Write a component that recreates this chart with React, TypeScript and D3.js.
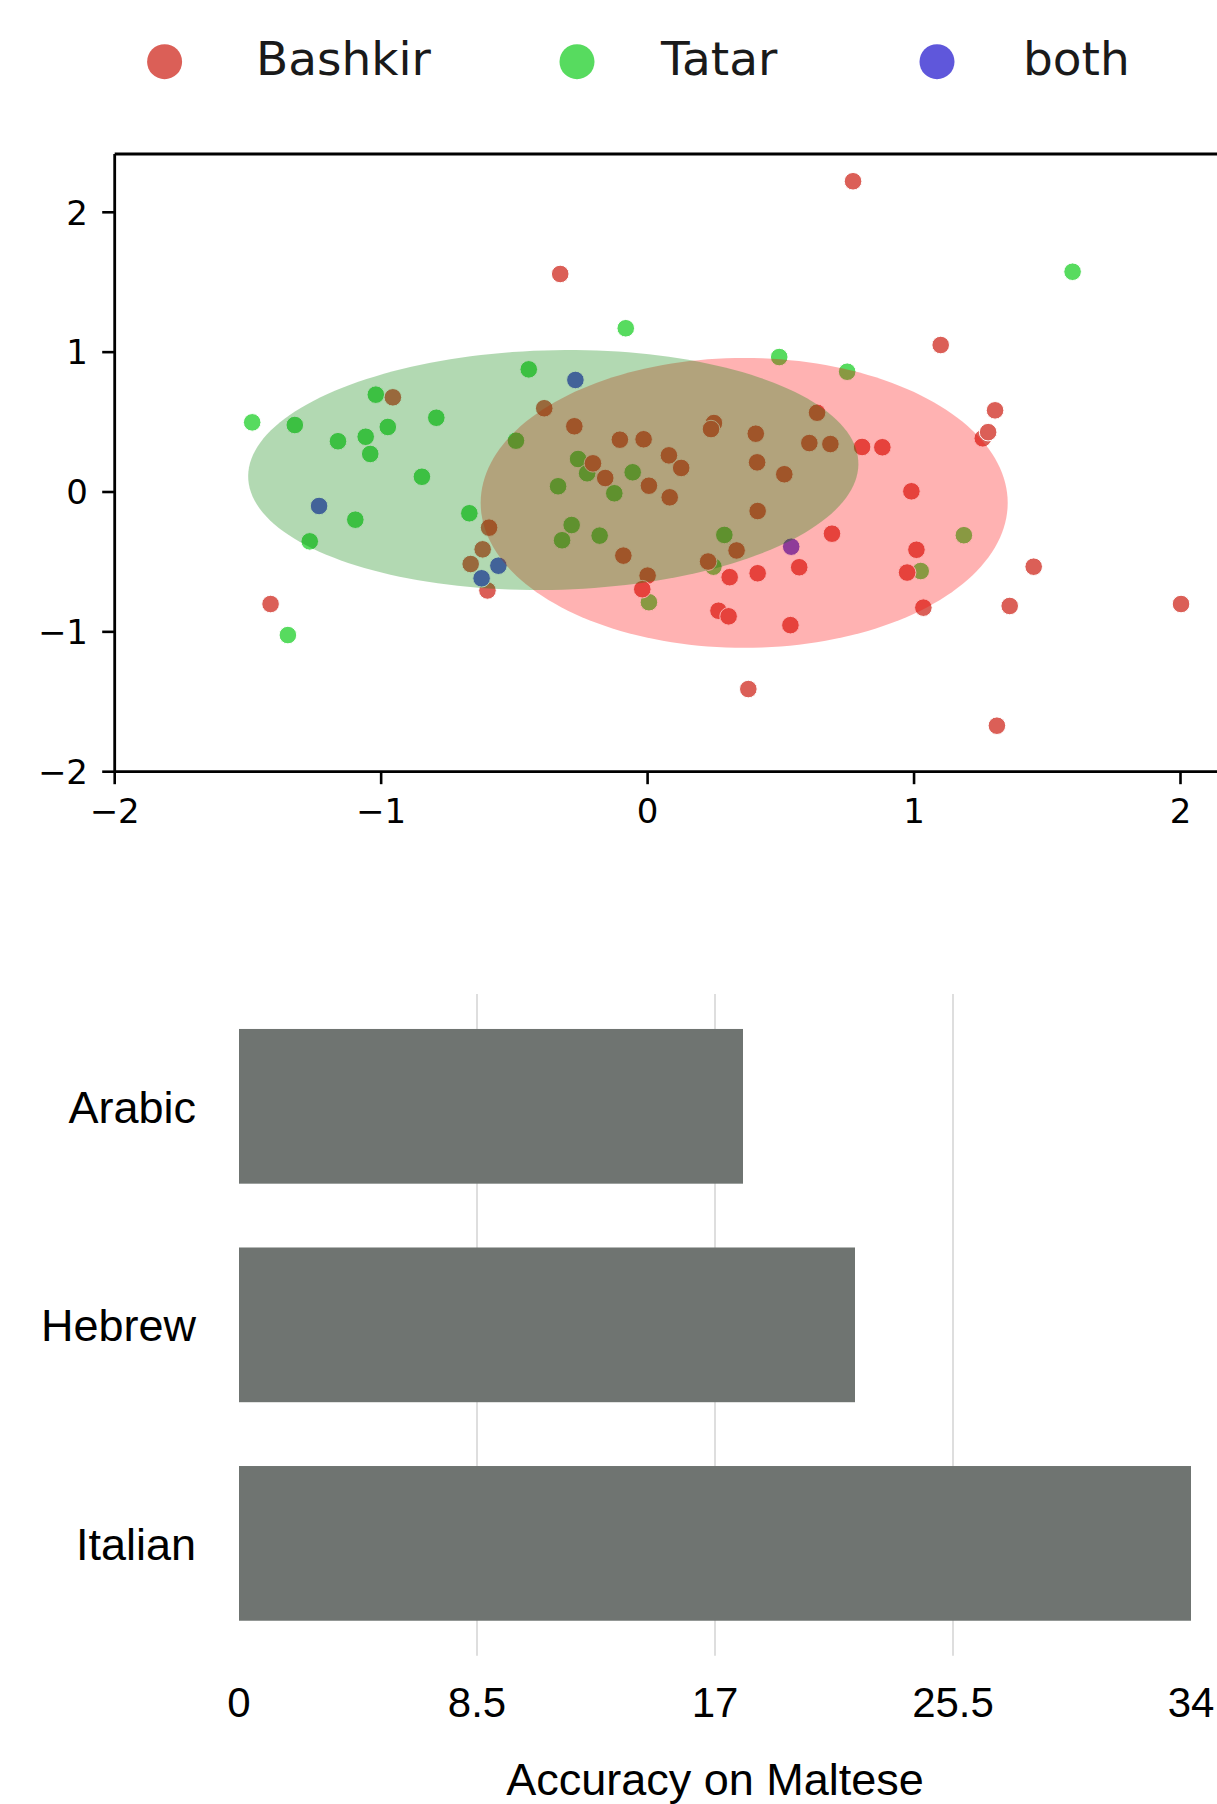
import React from 'react';
import * as d3 from 'd3';

// scatter: language groups
const groups = ['Bashkir', 'Tatar', 'both'];
const groupColors = ['#db5f57', '#57db5f', '#5f57db'];

const bashkirPts: [number, number][] = [
  [-0.956, 0.677], [-1.415, -0.801], [-0.595, -0.255], [-0.619, -0.41], [-0.664, -0.515],
  [-0.601, -0.704], [-0.388, 0.599], [-0.275, 0.47], [-0.104, 0.374], [-0.015, 0.377],
  [0.08, 0.262], [0.126, 0.172], [0.249, 0.493], [0.238, 0.45], [-0.205, 0.205],
  [-0.159, 0.1], [0.005, 0.045], [0.083, -0.038], [-0.091, -0.455], [0.0, -0.598],
  [-0.02, -0.695], [0.334, -0.418], [0.227, -0.497], [0.308, -0.609], [0.266, -0.849],
  [0.304, -0.889], [1.1, 1.051], [1.304, 0.584], [1.258, 0.384], [1.278, 0.428],
  [0.636, 0.567], [0.406, 0.417], [0.607, 0.35], [0.686, 0.343], [0.805, 0.322],
  [0.881, 0.32], [0.411, 0.212], [0.513, 0.127], [0.413, -0.136], [0.99, 0.005],
  [0.692, -0.298], [0.413, -0.581], [0.569, -0.538], [1.009, -0.413], [0.974, -0.576],
  [1.035, -0.827], [1.359, -0.815], [1.449, -0.534], [0.536, -0.952], [0.378, -1.409],
  [1.311, -1.671], [2.002, -0.801], [0.771, 2.222], [-0.328, 1.559],
];

const tatarPts: [number, number][] = [
  [-1.484, 0.498], [-1.324, 0.479], [-1.02, 0.696], [-0.793, 0.531], [-1.162, 0.363],
  [-1.058, 0.395], [-0.975, 0.465], [-1.041, 0.272], [-0.847, 0.109], [-1.097, -0.198],
  [-1.268, -0.353], [-0.669, -0.152], [-1.35, -1.023], [-0.082, 1.171], [-0.446, 0.877],
  [-0.494, 0.367], [-0.261, 0.236], [-0.227, 0.134], [-0.125, -0.009], [-0.056, 0.141],
  [-0.336, 0.041], [-0.285, -0.236], [-0.321, -0.345], [-0.18, -0.312], [0.005, -0.788],
  [0.288, -0.307], [0.247, -0.534], [0.494, 0.965], [0.749, 0.86], [1.187, -0.309],
  [1.025, -0.565], [1.595, 1.575],
];

const bothPts: [number, number][] = [
  [-1.233, -0.1], [-0.623, -0.617], [-0.56, -0.527], [-0.271, 0.801], [0.539, -0.391],
];

// ellipses: [cx, cy, width, height, angle in degrees]
const ellipseBashkir = [0.3625, -0.078, 1.978, 2.073, 0];
const ellipseTatar = [-0.354, 0.157, 2.294, 1.711, 5];

const xTicks = [-2, -1, 0, 1, 2];
const yTicks = [-2, -1, 0, 1, 2];

// bar chart
const languages = ['Arabic', 'Hebrew', 'Italian'];
const accuracy = [18, 22, 34];
const accTicks = [0, 8.5, 17, 25.5, 34];

const fmt = (v: number) => (v < 0 ? '\u2212' + Math.abs(v) : String(v));

export default function App() {
  const x = d3.scaleLinear().domain([-2, 2]).range([114.7, 1180.5]);
  const y = d3.scaleLinear().domain([-2, 2]).range([771.7, 212.3]);
  const yTop = y(2.417);
  const xRight = x(2.3);

  const ellipsePath = (e: number[]) => {
    const [cx, cy, w, h, ang] = e;
    const a = (ang * Math.PI) / 180;
    const pts = d3.range(0, 360, 2).map((t) => {
      const r = (t * Math.PI) / 180;
      const ex = (w / 2) * Math.cos(r);
      const ey = (h / 2) * Math.sin(r);
      return [cx + ex * Math.cos(a) - ey * Math.sin(a), cy + ex * Math.sin(a) + ey * Math.cos(a)] as [number, number];
    });
    return d3.line<[number, number]>().x((d) => x(d[0])).y((d) => y(d[1])).curve(d3.curveLinearClosed)(pts) || '';
  };

  const layers: [number, number][][] = [tatarPts, bashkirPts, bothPts];
  const layerColor = [groupColors[1], groupColors[0], groupColors[2]];

  const bx = d3.scaleLinear().domain([0, 34]).range([239, 1191]);
  const by = d3.scaleBand().domain(languages).range([994, 1655.7]).paddingInner(0.292).paddingOuter(0.16);

  const legendX = [164.6, 577, 937];
  const legendTextX = [256, 661, 1023];

  const dv = 'DejaVu Sans, sans-serif';
  const helv = 'Liberation Sans, Arial, Helvetica, sans-serif';

  return (
    <svg width={1217} height={1804} style={{ position: 'absolute', left: 0, top: 0, background: '#fff' }}>
      {/* legend */}
      {groups.map((g, i) => (
        <g key={g}>
          <circle cx={legendX[i]} cy={61.7} r={17.5} fill={groupColors[i]} />
          <text x={legendTextX[i]} y={75} fontFamily={dv} fontSize={47} fill="#1a1a1a">{g}</text>
        </g>
      ))}

      {/* scatter points */}
      {layers.map((pts, li) => (
        <g key={li}>
          {pts.map((p, i) => (
            <circle key={i} cx={x(p[0])} cy={y(p[1])} r={8.8} fill={layerColor[li]} stroke="#fff" strokeWidth={1} />
          ))}
        </g>
      ))}

      {/* ellipses drawn over points */}
      <path d={ellipsePath(ellipseBashkir)} fill="red" fillOpacity={0.3} />
      <path d={ellipsePath(ellipseTatar)} fill="green" fillOpacity={0.3} />

      {/* spines */}
      <g stroke="#000" strokeWidth={2.8} fill="none">
        <line x1={x(-2)} x2={x(-2)} y1={yTop} y2={y(-2)} />
        <line x1={x(-2)} x2={xRight} y1={yTop} y2={yTop} />
        <line x1={x(-2)} x2={xRight} y1={y(-2)} y2={y(-2)} />
      </g>

      {/* y ticks */}
      {yTicks.map((t) => (
        <g key={'y' + t}>
          <line x1={x(-2) - 12.5} x2={x(-2)} y1={y(t)} y2={y(t)} stroke="#000" strokeWidth={2.6} />
          <text x={88} y={y(t)} dy="0.36em" textAnchor="end" fontFamily={dv} fontSize={34}>{fmt(t)}</text>
        </g>
      ))}

      {/* x ticks */}
      {xTicks.map((t) => (
        <g key={'x' + t}>
          <line x1={x(t)} x2={x(t)} y1={y(-2)} y2={y(-2) + 12.5} stroke="#000" strokeWidth={2.6} />
          <text x={x(t)} y={823} textAnchor="middle" fontFamily={dv} fontSize={34}>{fmt(t)}</text>
        </g>
      ))}

      {/* bar chart grid */}
      {accTicks.slice(1, -1).map((t) => (
        <line key={'g' + t} x1={bx(t)} x2={bx(t)} y1={994} y2={1655.7} stroke="#cccccc" strokeWidth={1.3} />
      ))}

      {languages.map((l, i) => (
        <g key={l}>
          <rect x={bx(0)} y={by(l)} width={bx(accuracy[i]) - bx(0)} height={by.bandwidth()} fill="#6f7471" />
          <text x={196} y={(by(l) || 0) + by.bandwidth() / 2} dy="0.36em" textAnchor="end" fontFamily={helv} fontSize={45}>{l}</text>
        </g>
      ))}

      {accTicks.map((t) => (
        <text key={'t' + t} x={bx(t)} y={1717} textAnchor="middle" fontFamily={helv} fontSize={42}>{String(t)}</text>
      ))}

      <text x={bx(17)} y={1795} textAnchor="middle" fontFamily={helv} fontSize={45}>Accuracy on Maltese</text>
    </svg>
  );
}
